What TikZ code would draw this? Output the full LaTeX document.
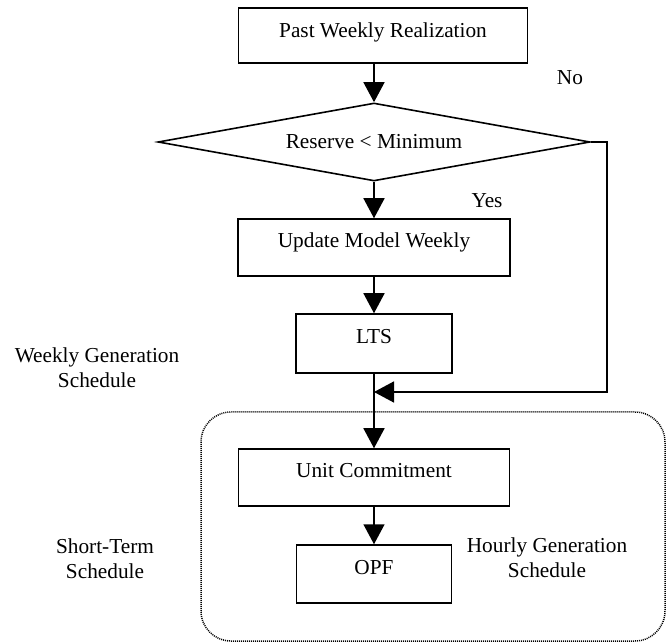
\documentclass[tikz,border=0pt]{standalone}
\usepackage{fontspec}
\setmainfont{Liberation Serif}
\usetikzlibrary{shapes.geometric}
\usetikzlibrary{arrows.meta}

\begin{document}
\begin{tikzpicture}[x=1pt, y=1pt, node distance={100pt},
    box/.style={draw, line width=1.5pt, minimum height=57pt, inner sep=0pt, font=\fontsize{21.3}{25}\selectfont},
    stepbox/.style={box, text height=13pt, text depth=13pt},
    txt/.style={align=center, inner sep=0pt, font=\fontsize{21.3}{25}\selectfont},
    arr/.style={line width=1.5pt, -{Triangle[length=20pt, width=21pt]}}]
    \useasboundingbox (0,0) rectangle (670,-644);
    \node[stepbox, text depth=8pt, minimum width=289pt, minimum height=55pt] (1) at (383,-35.5) {Past Weekly Realization};
    \node[box, diamond, aspect=5.5, line width=1.6pt, minimum width=432pt, minimum height=78pt] (2) [below of=1, node distance=106.5pt, xshift=-9pt] {Reserve < Minimum};
    \node[stepbox, minimum width=272pt] (3) [below of=2, node distance=105.5pt] {Update Model Weekly};
    \node[stepbox, minimum width=156pt, minimum height=59pt] (4) [below of=3, node distance=96pt] {LTS};
    \node[stepbox, minimum width=271pt] (5) [below of=4, node distance=134pt] {Unit Commitment};
    \node[stepbox, minimum width=155pt, minimum height=58pt] (6) [below of=5, node distance=96.5pt] {OPF};
    \coordinate (8) at (4.south |- 0,-392);
    % labels
    \node[txt] (9) at (570,-78) {No};
    \node[txt] (10) at (487,-201) {Yes};
    \node[txt] (11) at (97,-367.5) {Weekly Generation\\Schedule};
    \node[txt] (12) at (105,-559) {Short-Term\\Schedule};
    \node[txt] (13) at (547,-557.5) {Hourly Generation\\Schedule};
    % short-term frame
    \draw[line width=1.5pt, dash pattern=on 1pt off 1pt, rounded corners=30pt] (201,-412) rectangle (665,-641);
\begin{scope}
    \draw[arr] (2.north |- 1.south) -- (2.north);
    \draw[arr] (2.south) -- (3.north);
    \draw[arr] (3.south) -- (4.north);
    \draw[arr] (4.south) -- (5.north);
    \draw[arr] (5.south) -- (6.north);
    \draw[arr] (2.east) -- ++(16,0) |- (8);
\end{scope}
\end{tikzpicture}
\end{document}
